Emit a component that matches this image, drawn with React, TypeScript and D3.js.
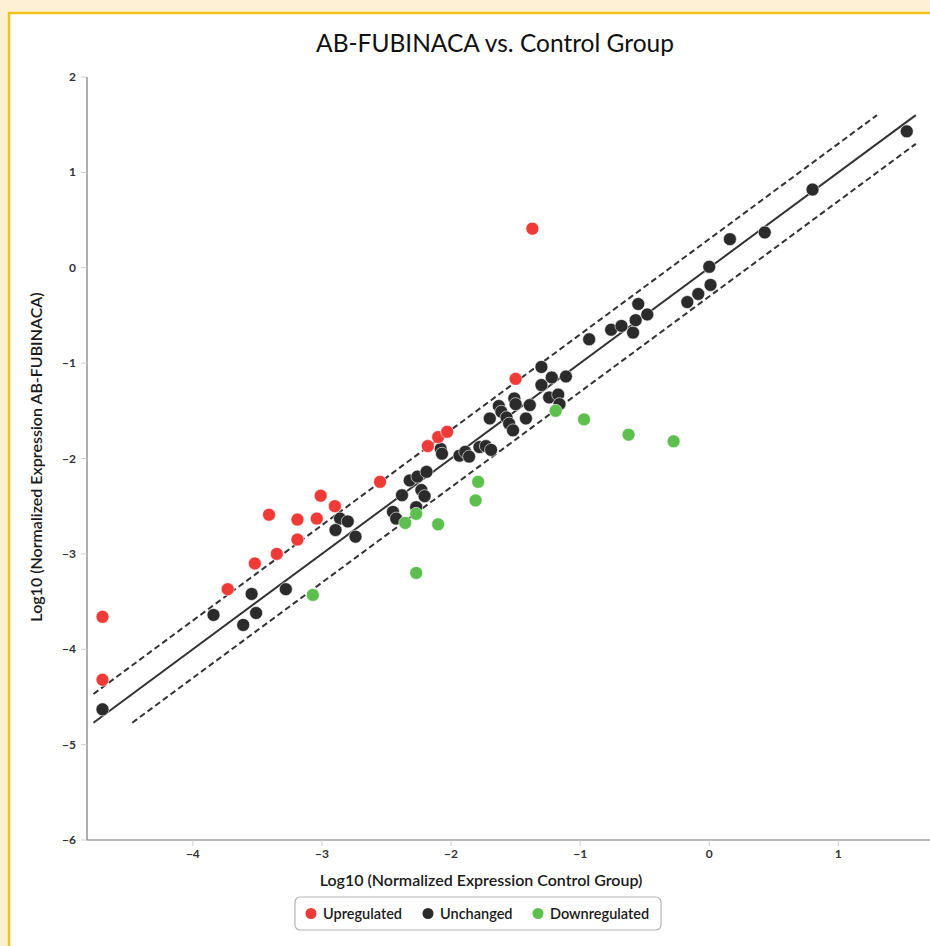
import * as d3 from "d3";

// log10 normalized expression: [control, AB-FUBINACA]
const upregulated: [number, number][] = [
  [-4.7, -3.66], [-4.7, -4.32], [-3.73, -3.37], [-3.52, -3.1], [-3.41, -2.59],
  [-3.35, -3.0], [-3.19, -2.64], [-3.19, -2.85], [-3.01, -2.39], [-3.04, -2.63],
  [-2.9, -2.5], [-2.55, -2.245], [-2.18, -1.87], [-2.1, -1.775], [-2.03, -1.72],
  [-1.5, -1.165], [-1.37, 0.41],
];

const unchanged: [number, number][] = [
  [-4.7, -4.63], [-3.84, -3.64], [-3.545, -3.42], [-3.51, -3.62], [-3.61, -3.745],
  [-3.28, -3.37], [-2.86, -2.63], [-2.8, -2.66], [-2.895, -2.75], [-2.74, -2.82],
  [-2.38, -2.385], [-2.45, -2.56], [-2.425, -2.63], [-2.32, -2.23], [-2.26, -2.19],
  [-2.19, -2.14], [-2.23, -2.33], [-2.205, -2.395], [-2.27, -2.51], [-2.08, -1.9],
  [-2.07, -1.95], [-1.935, -1.97], [-1.89, -1.93], [-1.86, -1.98], [-1.78, -1.88],
  [-1.73, -1.87], [-1.69, -1.91], [-1.7, -1.58], [-1.63, -1.45], [-1.61, -1.51],
  [-1.57, -1.57], [-1.55, -1.635], [-1.52, -1.705], [-1.51, -1.37], [-1.5, -1.43],
  [-1.42, -1.58], [-1.39, -1.44], [-1.3, -1.04], [-1.3, -1.23], [-1.22, -1.15],
  [-1.11, -1.14], [-1.24, -1.36], [-1.17, -1.33], [-1.16, -1.43], [-0.93, -0.75],
  [-0.76, -0.65], [-0.68, -0.61], [-0.59, -0.68], [-0.57, -0.55], [-0.55, -0.38],
  [-0.48, -0.49], [-0.17, -0.36], [-0.085, -0.275], [0.01, -0.18], [0.0, 0.01],
  [0.16, 0.3], [0.43, 0.37], [0.8, 0.82], [1.53, 1.43],
];

const downregulated: [number, number][] = [
  [-3.07, -3.43], [-2.355, -2.675], [-2.27, -2.58], [-2.27, -3.2], [-2.1, -2.69],
  [-1.79, -2.245], [-1.81, -2.44], [-1.19, -1.5], [-0.97, -1.59], [-0.625, -1.75],
  [-0.276, -1.82],
];

const xTicks = [-4, -3, -2, -1, 0, 1];
const yTicks = [2, 1, 0, -1, -2, -3, -4, -5, -6];
const lineOffsets = [0, Math.log10(2), -Math.log10(2)];
const lineRange = [-4.77, 1.6];

const legendItems = [
  { label: "Upregulated", color: "#ef3b38" },
  { label: "Unchanged", color: "#2b2b2b" },
  { label: "Downregulated", color: "#5dbf4e" },
];

const W = 930;
const H = 946;
const font = "Lato, 'Open Sans', sans-serif";

export default function App() {
  const x = d3.scaleLinear().domain([-4.82, 1.71]).range([87, 930]);
  const y = d3.scaleLinear().domain([-6, 2]).range([840, 77]);

  const diag = (c: number) => {
    const [lo, hi] = lineRange;
    const x0 = Math.max(lo, lo - c);
    const x1 = Math.min(hi, hi - c);
    return d3.line<number>()
      .x((v) => x(v))
      .y((v) => y(v + c))([x0, x1]) as string;
  };

  const series = [
    { pts: unchanged, color: legendItems[1].color },
    { pts: upregulated, color: legendItems[0].color },
    { pts: downregulated, color: legendItems[2].color },
  ];

  return (
    <svg width={W} height={H} style={{ position: "absolute", left: 0, top: 0, display: "block" }}>
      <rect x={0} y={0} width={W} height={H} fill="#fdf0d4" />
      <rect x={9} y={13} width={W} height={H} fill="#fff" stroke="#f3c21b" strokeWidth={2.5} />

      <text x={495} y={52} textAnchor="middle" fontFamily={font} fontSize={24.5} fill="#111">
        AB-FUBINACA vs. Control Group
      </text>

      {/* axes */}
      <line x1={87} x2={87} y1={y(2)} y2={y(-6)} stroke="#777" strokeWidth={1.2} />
      <line x1={87} x2={W} y1={y(-6)} y2={y(-6)} stroke="#777" strokeWidth={1.2} />
      {yTicks.map((t) => (
        <g key={"y" + t}>
          <line x1={81} x2={87} y1={y(t)} y2={y(t)} stroke="#c8cdd6" />
          <text x={76} y={y(t) + 4} textAnchor="end" fontFamily={font} fontWeight={700} fontSize={12} fill="#333">
            {t < 0 ? "\u2212" + Math.abs(t) : t}
          </text>
        </g>
      ))}
      {xTicks.map((t) => (
        <g key={"x" + t}>
          <line x1={x(t)} x2={x(t)} y1={y(-6)} y2={y(-6) + 6} stroke="#c8cdd6" />
          <text x={x(t)} y={858} textAnchor="middle" fontFamily={font} fontWeight={700} fontSize={12} fill="#333">
            {t < 0 ? "\u2212" + Math.abs(t) : t}
          </text>
        </g>
      ))}

      <text x={481} y={886} textAnchor="middle" fontFamily={font} fontWeight={600} fontSize={16} fill="#1a1a1a">
        Log10 (Normalized Expression Control Group)
      </text>
      <text
        transform={`translate(42, 457) rotate(-90)`}
        textAnchor="middle"
        fontFamily={font}
        fontWeight={600}
        fontSize={16}
        fill="#1a1a1a"
      >
        Log10 (Normalized Expression AB-FUBINACA)
      </text>

      {/* fold-change lines */}
      {lineOffsets.map((c, i) => (
        <path
          key={"l" + i}
          d={diag(c)}
          fill="none"
          stroke="#333"
          strokeWidth={2}
          strokeDasharray={c === 0 ? undefined : "6,3.5"}
        />
      ))}

      {/* points */}
      {series.map((s, si) => (
        <g key={"s" + si}>
          {s.pts.map((p, i) => (
            <circle key={i} cx={x(p[0])} cy={y(p[1])} r={6.5} fill={s.color} stroke="#fff" strokeWidth={0.6} />
          ))}
        </g>
      ))}

      {/* legend */}
      <rect x={295} y={897} width={366} height={33} rx={5} fill="#fff" stroke="#b5b5b5" strokeWidth={1.2} />
      {legendItems.map((d, i) => {
        const cx = [311, 428, 538][i];
        return (
          <g key={d.label}>
            <circle cx={cx} cy={913.5} r={5.5} fill={d.color} />
            <text x={cx + 12} y={919} fontFamily={font} fontWeight={600} fontSize={14.5} fill="#1a1a1a">
              {d.label}
            </text>
          </g>
        );
      })}
    </svg>
  );
}
